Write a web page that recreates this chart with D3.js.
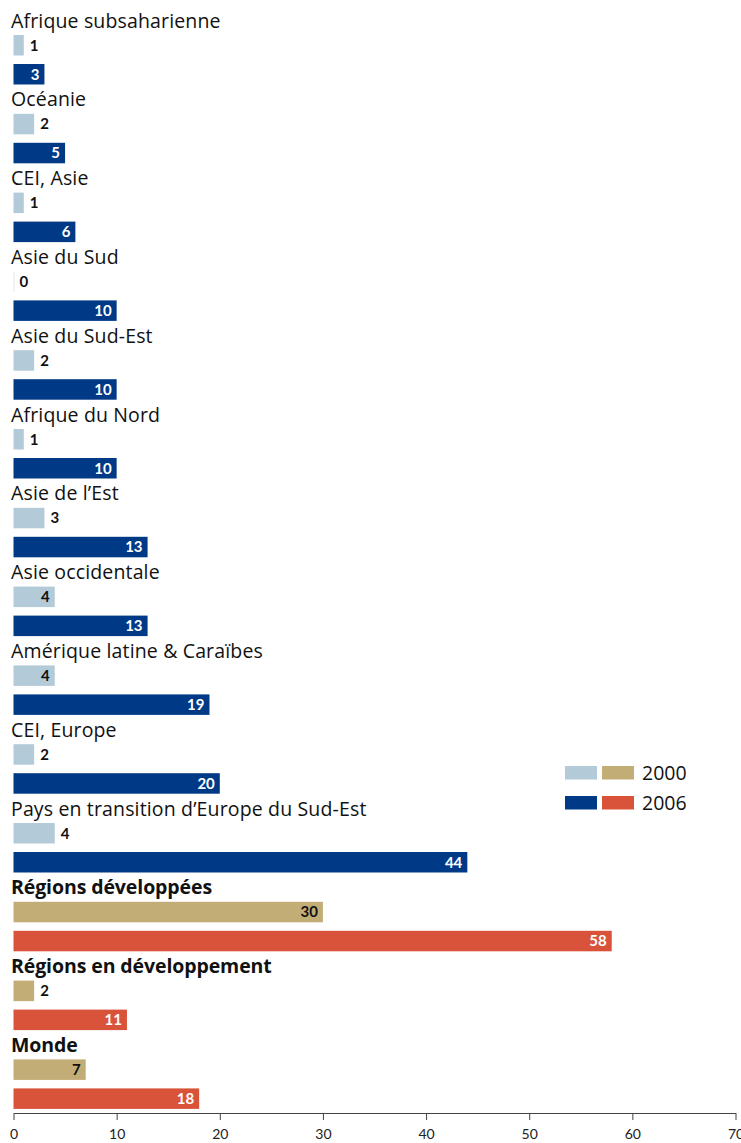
<!DOCTYPE html>
<html><head><meta charset="utf-8">
<script src="https://cdn.jsdelivr.net/npm/d3@7"></script>
<style>
html,body{margin:0;padding:0;background:#fff;}
svg{display:block;font-family:"Open Sans",Lato,sans-serif;}
</style></head>
<body>
<svg id="chart" width="741" height="1143"></svg>
<script>
const categories = ["Afrique subsaharienne","Océanie","CEI, Asie","Asie du Sud","Asie du Sud-Est","Afrique du Nord","Asie de l’Est","Asie occidentale","Amérique latine & Caraïbes","CEI, Europe","Pays en transition d’Europe du Sud-Est","Régions développées","Régions en développement","Monde"];
const values2000 = [1,2,1,0,2,1,3,4,4,2,4,30,2,7];
const values2006 = [3,5,6,10,10,10,13,13,19,20,44,58,11,18];
const aggregateCategories = ["Régions développées","Régions en développement","Monde"];
const outsideLabelCategories = ["Pays en transition d’Europe du Sud-Est"];
const seriesNames = ["2000","2006"];
const xTicks = [0,10,20,30,40,50,60,70];

const colors = {
  region: {"2000":"#b3cbd8","2006":"#003a87"},
  aggregate: {"2000":"#c3ad77","2006":"#d9533a"}
};

const svg = d3.select("#chart");
const x = d3.scaleLinear().domain([0,70]).range([13.5,735.5]);
const step = 78.8;
const y = d3.scaleBand().domain(categories).range([7, 7 + step*categories.length]).paddingInner(0).paddingOuter(0);
const ySub = d3.scaleBand().domain(seriesNames).range([28, 77.5]).paddingInner(0.293).paddingOuter(0);

const rows = categories.map((c,i)=>({cat:c, agg: aggregateCategories.includes(c), vals:[{s:"2000",v:values2000[i]},{s:"2006",v:values2006[i]}]}));

const g = svg.selectAll("g.row").data(rows).join("g").attr("class","row")
  .attr("transform", d=>`translate(0,${y(d.cat)})`);

g.append("text")
  .attr("x", 11).attr("y", 20.5)
  .attr("font-size", 19.5)
  .attr("letter-spacing", d=>d.agg ? "-0.1px" : "0.15px")
  .attr("font-weight", d=>d.agg ? 700 : 400)
  .attr("fill", "#111")
  .text(d=>d.cat);

const bars = g.selectAll("g.bar").data(d=>d.vals.map(v=>({...v, agg:d.agg, cat:d.cat}))).join("g").attr("class","bar");

bars.append("rect")
  .attr("x", x(0))
  .attr("y", d=>ySub(d.s))
  .attr("height", ySub.bandwidth())
  .attr("width", d=>Math.max(1, x(d.v)-x(0)))
  .attr("fill", d=>(d.agg?colors.aggregate:colors.region)[d.s])
  .attr("opacity", d=>d.v===0?0.4:1);

function inside(d){
  if (d.s==="2006") return true;
  if (outsideLabelCategories.includes(d.cat)) return false;
  return d.v >= 4;
}
bars.append("text")
  .attr("x", d=> inside(d) ? x(d.v)-5 : x(d.v)+6)
  .attr("y", d=>ySub(d.s)+ySub.bandwidth()/2)
  .attr("dy","0.36em")
  .attr("text-anchor", d=>inside(d)?"end":"start")
  .attr("font-size", 15)
  .attr("font-weight", 700)
  .attr("font-family","Lato,sans-serif")
  .attr("fill", d=> (d.s==="2006") ? "#fff" : "#111")
  .text(d=>d.v);

// axis
const axis = d3.axisBottom(x).tickValues(xTicks).tickSize(7).tickSizeOuter(0).tickFormat(d3.format("d"));
const ax = svg.append("g").attr("transform","translate(0,1113)").call(axis);
ax.select(".domain").attr("stroke","#444");
ax.selectAll(".tick line").attr("stroke","#444");
ax.selectAll(".tick text").attr("font-size",14).attr("fill","#222").attr("font-family","Lato,sans-serif").attr("dy","1.15em");

// legend
const legend = svg.append("g").attr("transform","translate(565,766)");
seriesNames.forEach((s,i)=>{
  const lg = legend.append("g").attr("transform",`translate(0,${i*30})`);
  lg.append("rect").attr("x",0).attr("width",32).attr("height",13.5).attr("fill",colors.region[s]);
  lg.append("rect").attr("x",37).attr("width",32).attr("height",13.5).attr("fill",colors.aggregate[s]);
  lg.append("text").attr("x",77).attr("y",14).attr("font-size",19.5).attr("fill","#111").text(s);
});
</script>
</body></html>
